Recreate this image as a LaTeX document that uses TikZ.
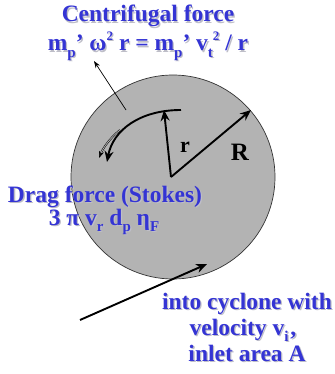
\documentclass[tikz,border=0pt]{standalone}
\usepackage{fontspec}
\setmainfont{Liberation Serif}
\usetikzlibrary{arrows.meta}
\definecolor{txtblue}{RGB}{52,52,212}
\definecolor{shadowgray}{RGB}{190,190,200}
\definecolor{discgray}{RGB}{179,179,179}
\newcommand{\sbs}[1]{\raisebox{-0.28em}{\fontsize{15}{15}\selectfont #1}}
\newcommand{\sps}[1]{\raisebox{0.45em}{\fontsize{13}{13}\selectfont #1}}
\newcommand{\shd}[1]{\makebox[0pt][l]{\hspace{1.3pt}\raisebox{-1.3pt}{\color{shadowgray}#1}}#1}
\tikzset{
  lbl/.style={text=txtblue, font=\fontsize{23.5}{26}\selectfont\bfseries, inner sep=0pt},
  dim/.style={font=\fontsize{23.5}{26}\selectfont\bfseries, inner sep=0pt},
  thick arrow/.style={line width=1.9pt, -{Stealth[length=11pt,width=9pt]}},
  thin arrow/.style={line width=0.7pt, -{Stealth[length=7pt,width=5pt]}},
}
\begin{document}
\begin{tikzpicture}[x=1pt,y=-1pt]
\useasboundingbox (0,0) rectangle (334,374);
\node[circle, draw=black!80, line width=0.7pt, fill=discgray, minimum size=204pt, inner sep=0pt] (disc) at (173,177) {};
\coordinate (o) at (171,177);
\coordinate (rt) at (164,110);
\coordinate (Rt) at (251,110);
\coordinate (cs) at (181,110);
\coordinate (ce) at (107,162);
\coordinate (ts) at (120,130);
\coordinate (te) at (99,158);
\coordinate (ca) at (126,110);
\coordinate (cb) at (94,61);
\coordinate (ia) at (80,320);
\coordinate (ib) at (207,264);
\draw[thick arrow] (o) -- (rt);
\draw[thick arrow] (o) -- (Rt);
\draw[thick arrow] (cs) .. controls (140,110) and (113,130) .. (ce);
\draw[thin arrow, double=discgray, double distance=0.8pt, line width=0.5pt] (ts) .. controls (110,138) and (103,148) .. (te);
\draw[thin arrow] (ca) -- (cb);
\draw[thick arrow] (ia) -- (ib);
\node[dim, font=\fontsize{22}{24}\selectfont\bfseries] (rl) at (185,147) {r};
\node[dim, font=\fontsize{25}{27}\selectfont\bfseries] (Rl) at (240,152) {R};
\node[lbl, anchor=base] (cf1) at (148,22) {\shd{Centrifugal force}};
\node[lbl, anchor=base] (cf2) at (148,51) {\shd{m\sbs{p}’ ω\sps{2} r = m\sbs{p}’ v\sbs{t}\sps{2} / r}};
\node[lbl, anchor=base] (dr1) at (105,202) {\shd{Drag force (Stokes)}};
\node[lbl, anchor=base] (dr2) at (104,225) {\shd{3 π v\sbs{r} d\sbs{p} η\sbs{F}}};
\node[lbl, anchor=base] (in1) at (247,309) {\shd{into cyclone with}};
\node[lbl, anchor=base] (in2) at (243,335) {\shd{velocity v\sbs{i}\hspace{2pt},}};
\node[lbl, anchor=base] (in3) at (247,361) {\shd{inlet area A}};
\end{tikzpicture}
\end{document}
